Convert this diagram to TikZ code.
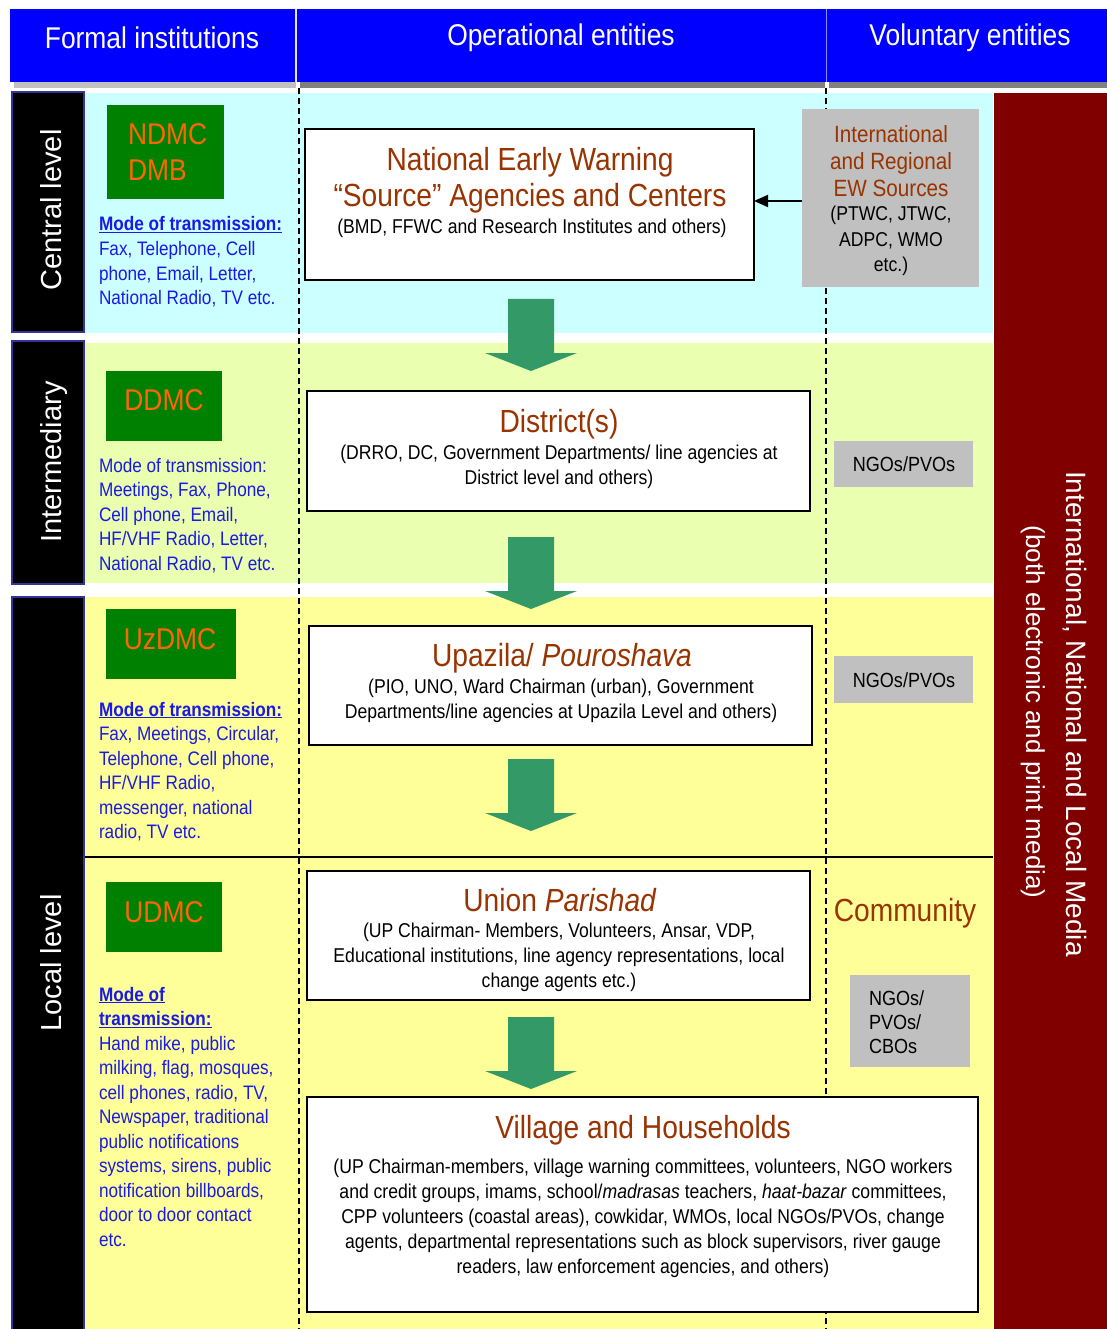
\documentclass[tikz,border=0pt]{standalone}
\usepackage{fontspec}
\setmainfont{Liberation Sans}[FakeStretch=0.88]
\newfontfamily\barfont{Liberation Sans}
\usetikzlibrary{arrows.meta}

\definecolor{hdrblue}{HTML}{0000FF}
\definecolor{rowcyan}{HTML}{CCFFFF}
\definecolor{rowlime}{HTML}{EAFFAF}
\definecolor{rowyellow}{HTML}{FFFF99}
\definecolor{mediared}{HTML}{800000}
\definecolor{orggreen}{HTML}{008000}
\definecolor{orgtext}{HTML}{FF6600}
\definecolor{titlebrown}{HTML}{993300}
\definecolor{modeblue}{HTML}{1A1AE6}
\definecolor{flowgreen}{HTML}{339966}
\definecolor{srcgray}{HTML}{C0C0C0}
\definecolor{stripgray}{HTML}{808080}
\definecolor{barnavy}{HTML}{333399}

% multi-line nodes are anchored at the baseline of their last line
\tikzset{
  every node/.style={inner sep=0pt, outer sep=0pt},
  hdr/.style={text=white, font=\fontsize{30}{34}\selectfont},
  levelbar/.style={fill=black, draw=barnavy, line width=1.5},
  leveltext/.style={text=white, rotate=90, anchor=base, font=\barfont\fontsize{29}{34}\selectfont},
  orgbox/.style={fill=orggreen},
  orgname/.style={text=orgtext, font=\fontsize{30}{36}\selectfont},
  mode/.style={text=modeblue, align=left, anchor=base west, font=\fontsize{19.5}{24.5}\selectfont},
  entity/.style={draw=black, line width=2.5, fill=white},
  ttl/.style={text=titlebrown, align=center, anchor=base, font=\fontsize{32}{36}\selectfont},
  sub/.style={text=black, align=center, anchor=base, font=\fontsize{20}{25}\selectfont},
  graybox/.style={fill=srcgray},
  ngo/.style={text=black, anchor=base, font=\fontsize{20.5}{24}\selectfont},
  divider/.style={dashed, dash pattern=on 6pt off 4pt, line width=2},
  mediatext/.style={text=white, rotate=-90, anchor=base, font=\barfont\fontsize{28}{34}\selectfont},
  pics/flowarrow/.style={code={
    \fill[flowgreen] (-23,0) -- (23,0) -- (23,54) -- (46,54) -- (0,72)
      -- (-46,54) -- (-23,54) -- cycle;
  }},
}

\begin{document}
\begin{tikzpicture}[x=1pt, y=-1pt]
\useasboundingbox (0,0) rectangle (1107,1329);
\fill[white] (0,0) rectangle (1107,1329);

% column headings
\fill[hdrblue] (10,9) rectangle (1107,82);
\draw[white!80!gray, line width=1.5] (296,9) -- (296,82);
\draw[white!55!hdrblue, line width=1] (826,9) -- (826,82);
\fill[srcgray] (14,82) rectangle (296,88);
\fill[stripgray] (300,82) rectangle (825,88);
\fill[stripgray] (829,82) rectangle (1107,88);
\node[hdr] (hFormal) at (152,38) {Formal institutions};
\node[hdr] (hOper) at (561,38) {Operational entities};
\node[hdr] (hVol) at (970,38) {Voluntary entities};

% level rows
\fill[rowcyan] (85,93) rectangle (993,333);
\fill[rowlime] (85,343) rectangle (993,583);
\fill[rowyellow] (85,597) rectangle (993,1329);
\draw[black, line width=2] (85,857) -- (993,857);

% media band
\fill[mediared] (994,93) rectangle (1107,1329);
\node[mediatext] (media1) at (1066,714) {International, National and Local Media};
\node[mediatext, font=\barfont\fontsize{26}{32}\selectfont] (media2) at (1026,712) {(both electronic and print media)};

% level bars
\filldraw[levelbar] (12,92) rectangle (84,332);
\filldraw[levelbar] (12,341) rectangle (84,584);
\filldraw[levelbar] (12,597) rectangle (84,1330);
\node[leveltext] (lvlCentral) at (61,210) {Central level};
\node[leveltext] (lvlInter) at (61,462) {Intermediary};
\node[leveltext] (lvlLocal) at (61,963) {Local level};

% column dividers
\draw[divider] (299,88) -- (299,1329);
\draw[divider] (826,88) -- (826,1329);

% formal institutions
\node[orgbox, minimum width=117, minimum height=94] (ndmcbox) at (165.5,152) {};
\node[orgname, anchor=base west, align=left] (ndmc) at (128,181) {NDMC\\DMB};
\node[orgbox, minimum width=116, minimum height=70] (ddmcbox) at (164,406) {};
\node[orgname, anchor=base] (ddmc) at (164,410) {DDMC};
\node[orgbox, minimum width=130, minimum height=70] (uzdmcbox) at (171,644) {};
\node[orgname, anchor=base] (uzdmc) at (170,649) {UzDMC};
\node[orgbox, minimum width=116, minimum height=70] (udmcbox) at (164,917) {};
\node[orgname, anchor=base] (udmc) at (164,922) {UDMC};

\node[mode] (modeC) at (99,304.5) {\underline{\textbf{Mode of transmission:}}\\Fax, Telephone, Cell\\phone, Email, Letter,\\National Radio, TV etc.};
\node[mode] (modeI) at (99,570) {Mode of transmission:\\Meetings, Fax, Phone,\\Cell phone, Email,\\HF/VHF Radio, Letter,\\National Radio, TV etc.};
\node[mode] (modeU) at (99,838.5) {\underline{\textbf{Mode of transmission:}}\\Fax, Meetings, Circular,\\Telephone, Cell phone,\\HF/VHF Radio,\\messenger, national\\radio, TV etc.};
\node[mode] (modeL) at (99,1246) {\underline{\textbf{Mode of}}\\\underline{\textbf{transmission:}}\\Hand mike, public\\milking, flag, mosques,\\cell phones, radio, TV,\\Newspaper, traditional\\public notifications\\systems, sirens, public\\notification billboards,\\door to door contact\\etc.};

% operational entities
\node[entity, minimum width=449, minimum height=151] (nat) at (529.5,204.5) {};
\node[ttl] (natT) at (530,206.5) {National Early Warning\\“Source” Agencies and Centers};
\node[sub] (natS) at (532,234) {(BMD, FFWC and Research Institutes and others)};

\node[entity, minimum width=503, minimum height=120] (dist) at (558.5,451) {};
\node[ttl] (distT) at (559,432) {District(s)};
\node[sub] (distS) at (559,484) {(DRRO, DC, Government Departments/ line agencies at\\District level and others)};

\node[entity, minimum width=503, minimum height=119] (upz) at (560.5,685.5) {};
\node[ttl] (upzT) at (562,666) {Upazila/ \textit{Pouroshava}};
\node[sub] (upzS) at (561,718) {(PIO, UNO, Ward Chairman (urban), Government\\Departments/line agencies at Upazila Level and others)};

\node[entity, minimum width=503, minimum height=129] (union) at (558.5,935.5) {};
\node[ttl] (unionT) at (560,911) {Union \textit{Parishad}};
\node[sub] (unionS) at (559,987) {(UP Chairman- Members, Volunteers, Ansar, VDP,\\Educational institutions, line agency representations, local\\change agents etc.)};

\node[entity, minimum width=671, minimum height=215] (vil) at (642.5,1204.5) {};
\node[ttl] (vilT) at (643,1138) {Village and Households};
\node[sub] (vilS) at (643,1273) {(UP Chairman-members, village warning committees, volunteers, NGO workers\\and credit groups, imams, school/\textit{madrasas} teachers, \textit{haat-bazar} committees,\\CPP volunteers (coastal areas), cowkidar, WMOs, local NGOs/PVOs, change\\agents, departmental representations such as block supervisors, river gauge\\readers, law enforcement agencies, and others)};

% flow of warnings
\pic at (531,299) {flowarrow};
\pic at (531,537) {flowarrow};
\pic at (531,759) {flowarrow};
\pic at (531,1017) {flowarrow};

% voluntary entities
\node[graybox, minimum width=177, minimum height=178] (intl) at (890.5,198) {};
\node[ttl, font=\fontsize{23.5}{27}\selectfont] (intlT) at (891,196.5) {International\\and Regional\\EW Sources};
\node[sub, font=\fontsize{20}{25.5}\selectfont] (intlS) at (891,272) {(PTWC, JTWC,\\ADPC, WMO\\etc.)};
\coordinate (intlOut) at ([yshift=-3pt]intl.west);
\draw[line width=2, -{Triangle[length=14pt, width=12pt]}] (intlOut) -- (intlOut -| nat.east);

\node[graybox, minimum width=139, minimum height=46] (ngo1) at (903.5,464) {};
\node[ngo] (ngo1T) at (904,471) {NGOs/PVOs};
\node[graybox, minimum width=139, minimum height=47] (ngo2) at (903.5,679.5) {};
\node[ngo] (ngo2T) at (904,687) {NGOs/PVOs};

\node[ttl, font=\fontsize{32}{36}\selectfont] (comm) at (905,921.5) {Community};
\node[graybox, minimum width=120, minimum height=92] (ngo3) at (910,1021) {};
\node[ngo, anchor=base west, align=left, font=\fontsize{20.5}{24}\selectfont] (ngo3T) at (869,1053) {NGOs/\\PVOs/\\CBOs};
\end{tikzpicture}
\end{document}
